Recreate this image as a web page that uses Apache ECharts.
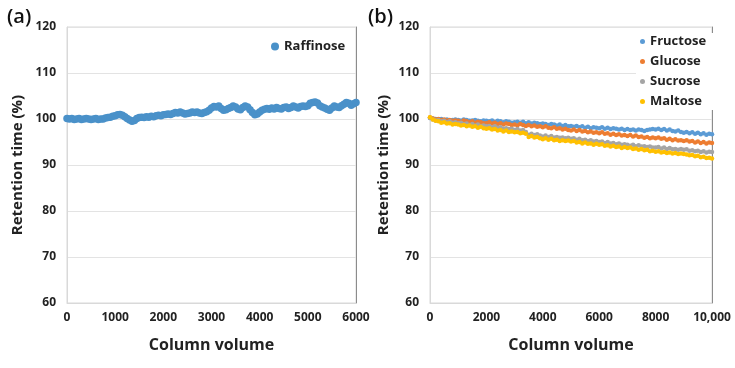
<!DOCTYPE html>
<html><head><meta charset="utf-8">
<script src="https://cdn.jsdelivr.net/npm/echarts@6/dist/echarts.min.js"></script>
<style>html,body{margin:0;padding:0;background:#fff}#c{width:735px;height:368px}</style>
</head><body><div id="c"></div>
<script>
// ---- data ----
const stepA = 50;   // column-volume sampling of panel (a)
const stepB = 100;  // column-volume sampling of panel (b)
const raffinose = [100.1,100.0,100.1,99.9,100.0,100.1,99.9,100.0,100.1,100.0,
99.9,100.0,100.1,99.9,100.0,100.0,100.2,100.3,100.4,100.6,
100.7,100.9,101.0,100.8,100.5,100.1,99.8,99.5,99.7,100.1,
100.3,100.4,100.3,100.5,100.4,100.6,100.5,100.7,100.8,100.7,
100.9,101.0,101.1,101.0,101.2,101.4,101.3,101.5,101.3,101.1,
101.2,101.3,101.5,101.4,101.5,101.3,101.2,101.4,101.6,101.9,
102.4,102.7,102.6,102.8,102.3,101.9,102.0,102.3,102.5,102.8,
102.6,102.2,102.0,102.5,102.8,102.6,102.0,101.4,100.9,101.1,
101.5,101.9,102.1,102.3,102.1,102.4,102.2,102.5,102.3,102.2,
102.5,102.6,102.3,102.5,102.8,102.6,102.4,102.7,102.8,102.7,
102.9,103.4,103.6,103.7,103.5,102.9,102.6,102.4,102.1,101.9,
102.4,102.8,102.6,102.5,102.9,103.2,103.6,103.4,103.0,103.3,
103.6];
const fructose = [100.2,100.1,100.0,99.9,100.0,99.8,99.9,99.7,99.8,99.9,
99.8,99.7,99.9,99.8,99.6,99.7,99.8,99.6,99.5,99.7,
99.6,99.5,99.7,99.4,99.6,99.5,99.3,99.5,99.4,99.2,
99.3,99.4,99.2,99.4,99.1,99.3,99.0,99.2,99.1,98.9,
99.0,98.9,98.7,98.9,98.8,98.6,98.8,98.5,98.7,98.4,
98.5,98.3,98.5,98.2,98.4,98.1,98.3,98.0,98.2,98.1,
98.0,98.2,97.9,98.1,97.8,98.0,97.9,97.7,97.9,97.6,
97.8,97.6,97.7,97.5,97.7,97.6,97.4,97.6,97.7,97.8,
97.7,97.9,97.6,97.8,97.5,97.7,97.4,97.3,97.5,97.2,
97.0,97.2,96.9,97.1,96.8,97.0,96.7,96.9,96.6,96.8,
96.7];
const glucose = [100.3,100.1,99.9,100.0,99.8,99.9,99.7,99.8,99.6,99.7,
99.6,99.4,99.7,99.5,99.3,99.5,99.2,99.4,99.3,99.1,
99.1,99.3,99.0,99.2,98.9,99.1,98.8,99.0,98.9,98.7,
98.8,98.6,98.9,98.7,98.5,98.7,98.4,98.6,98.3,98.4,
98.2,98.4,98.1,98.0,98.2,97.9,98.0,97.7,97.9,97.6,
97.5,97.7,97.4,97.6,97.3,97.4,97.1,97.3,97.0,97.1,
96.9,97.1,96.8,96.9,96.6,96.8,96.5,96.7,96.4,96.5,
96.3,96.5,96.2,96.4,96.1,96.2,95.9,96.1,95.8,96.0,
95.8,96.0,95.7,95.8,95.5,95.7,95.4,95.6,95.3,95.4,
95.2,95.4,95.1,95.2,94.9,95.1,94.8,95.0,94.7,94.9,
94.8];
const sucrose = [100.2,99.9,99.7,99.8,99.5,99.6,99.3,99.5,99.2,99.3,
99.1,99.2,98.9,99.0,98.7,98.9,98.6,98.8,98.5,98.6,
98.4,98.5,98.2,98.4,98.1,98.2,97.9,98.0,97.8,97.9,
97.6,97.8,97.5,97.6,97.2,96.6,96.8,96.5,96.7,96.4,
96.2,96.4,96.1,96.3,96.0,96.1,95.9,96.0,95.8,95.9,
95.7,95.8,95.5,95.7,95.4,95.5,95.2,95.4,95.1,95.2,
95.0,95.1,94.8,95.0,94.7,94.8,94.5,94.7,94.4,94.5,
94.4,94.2,94.4,94.1,94.3,94.0,94.1,93.9,94.0,93.8,
93.8,93.9,93.6,93.8,93.5,93.7,93.4,93.5,93.3,93.5,
93.3,93.4,93.1,93.2,93.0,93.1,92.8,93.0,92.7,92.9,
92.8];
const maltose = [100.4,99.9,99.6,99.5,99.2,99.3,99.0,99.1,98.8,98.9,
98.8,98.6,98.7,98.4,98.6,98.3,98.4,98.1,98.3,98.0,
97.9,98.0,97.7,97.8,97.5,97.6,97.3,97.5,97.2,97.3,
97.1,97.2,96.9,97.0,96.8,96.1,96.3,96.0,96.1,95.8,
95.6,95.8,95.5,95.7,95.4,95.5,95.2,95.4,95.2,95.3,
95.1,95.2,94.9,95.0,94.7,94.9,94.6,94.7,94.4,94.6,
94.4,94.5,94.2,94.3,94.0,94.2,93.9,94.0,93.7,93.9,
93.7,93.8,93.5,93.6,93.3,93.5,93.2,93.3,93.0,93.1,
92.9,93.0,92.7,92.8,92.6,92.7,92.5,92.6,92.4,92.5,
92.4,92.3,92.1,92.2,91.9,92.0,91.7,91.8,91.5,91.6,
91.4];
const xTicksA = ['0','1000','2000','3000','4000','5000','6000'];
const xTicksB = ['0','2000','4000','6000','8000','10,000'];
const yTicks = ['60','70','80','90','100','110','120'];

// ---- chart ----
const FONT = '"Open Sans", "Noto Sans", sans-serif';
const TXT = '#222';
const pairs = (arr, step) => arr.map((v, i) => [i * step, v]);
const chart = echarts.init(document.getElementById('c'), null, {renderer: 'canvas'});

function xAxis(gi, max, interval, ticks) {
  return {
    type: 'value', gridIndex: gi, min: 0, max: max, interval: interval,
    name: 'Column volume', nameLocation: 'middle', nameGap: 34,
    nameTextStyle: {fontFamily: FONT, fontWeight: 'bold', fontSize: 16, color: TXT},
    axisLine: {show: true, lineStyle: {color: '#d9d9d9'}},
    axisTick: {show: false}, splitLine: {show: false},
    axisLabel: {fontFamily: FONT, fontWeight: 'bold', fontSize: 12, color: TXT, margin: 9,
      formatter: v => ticks[Math.round(v / interval)]}
  };
}
function yAxis(gi, gap) {
  return {
    type: 'value', gridIndex: gi, min: 60, max: 120, interval: 10,
    name: 'Retention time (%)', nameLocation: 'middle', nameGap: gap,
    nameTextStyle: {fontFamily: FONT, fontWeight: 'bold', fontSize: 15, color: TXT},
    axisLine: {show: true, lineStyle: {color: '#d9d9d9'}},
    axisTick: {show: false},
    splitLine: {show: true, lineStyle: {color: '#e3e3e3'}},
    axisLabel: {fontFamily: FONT, fontWeight: 'bold', fontSize: 12, color: TXT, margin: 11,
      formatter: v => yTicks[Math.round((v - 60) / 10)]}
  };
}
function rightEdge(gi) {
  return {type: 'value', gridIndex: gi, min: 60, max: 120, position: 'right',
    axisLine: {show: true, lineStyle: {color: '#8c8c8c'}}, axisTick: {show: false},
    axisLabel: {show: false}, splitLine: {show: false}};
}

const legendText = {fontFamily: FONT, fontWeight: 'bold', fontSize: 13, color: TXT};
chart.setOption({
  animation: false,
  backgroundColor: '#fff',
  graphic: [
    {type: 'text', left: 7, top: 7, style: {text: '(a)', font: '600 20px ' + FONT, fill: '#111'}},
    {type: 'text', left: 368, top: 7, style: {text: '(b)', font: '600 20px ' + FONT, fill: '#111'}}
  ],
  grid: [
    {left: 67, top: 27, width: 289, height: 276, show: true, borderColor: '#d9d9d9', borderWidth: 1},
    {left: 430, top: 27, width: 282, height: 276, show: true, borderColor: '#d9d9d9', borderWidth: 1}
  ],
  xAxis: [xAxis(0, 6000, 1000, xTicksA), xAxis(1, 10000, 2000, xTicksB)],
  yAxis: [yAxis(0, 42), yAxis(1, 39), rightEdge(0), rightEdge(1)],
  legend: [
    {data: ['Raffinose'], left: 266, top: 35, icon: 'circle', itemWidth: 8, itemHeight: 8,
      itemGap: 5, textStyle: legendText},
    {data: ['Fructose', 'Glucose', 'Sucrose', 'Maltose'], orient: 'vertical', left: 636, top: 33,
      icon: 'circle', itemWidth: 5, itemHeight: 5, itemGap: 7, padding: [2, 8, 2, 4],
      backgroundColor: '#fff', textStyle: legendText}
  ],
  series: [
    {name: 'Raffinose', type: 'scatter', xAxisIndex: 0, yAxisIndex: 0, symbolSize: 7.5,
      itemStyle: {color: '#4a91c9', opacity: 1}, data: pairs(raffinose, stepA)},
    {name: 'Fructose', type: 'scatter', xAxisIndex: 1, yAxisIndex: 1, symbolSize: 4.5,
      itemStyle: {color: '#5b9bd5', opacity: 1}, data: pairs(fructose, stepB)},
    {name: 'Glucose', type: 'scatter', xAxisIndex: 1, yAxisIndex: 1, symbolSize: 4.5,
      itemStyle: {color: '#ed7d31', opacity: 1}, data: pairs(glucose, stepB)},
    {name: 'Sucrose', type: 'scatter', xAxisIndex: 1, yAxisIndex: 1, symbolSize: 4.5,
      itemStyle: {color: '#a5a5a5', opacity: 1}, data: pairs(sucrose, stepB)},
    {name: 'Maltose', type: 'scatter', xAxisIndex: 1, yAxisIndex: 1, symbolSize: 4.5,
      itemStyle: {color: '#ffc000', opacity: 1}, data: pairs(maltose, stepB)}
  ]
});
</script></body></html>
